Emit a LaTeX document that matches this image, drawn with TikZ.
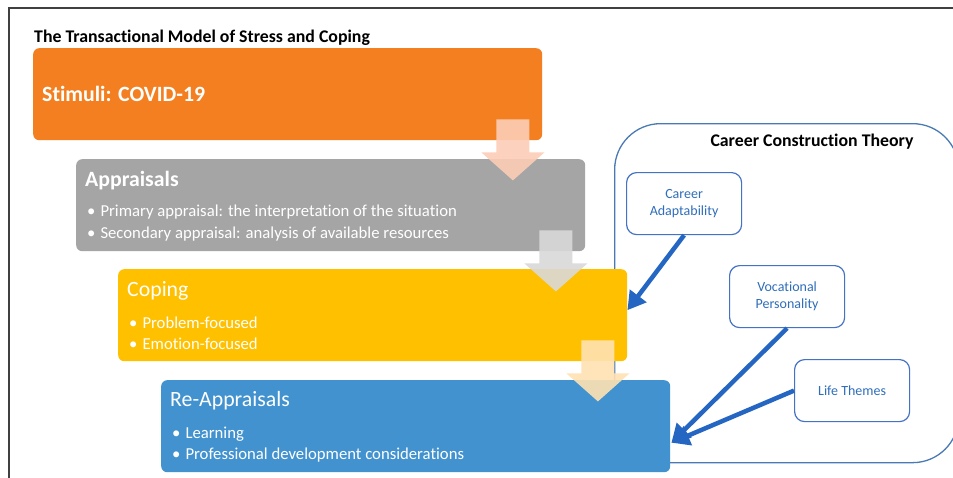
\documentclass[tikz,border=0pt]{standalone}
\usepackage{fontspec}
\setmainfont{Carlito}[Ligatures=NoCommon]
\usetikzlibrary{arrows.meta,calc}

\definecolor{framegray}{HTML}{404040}
\definecolor{stimorange}{HTML}{F47F20}
\definecolor{apprgray}{HTML}{A5A5A5}
\definecolor{copeyellow}{HTML}{FFC000}
\definecolor{reappblue}{HTML}{4292CF}
\definecolor{cctline}{HTML}{4A7AB5}
\definecolor{smallline}{HTML}{4472C4}
\definecolor{smalltext}{HTML}{2F6EBA}
\definecolor{linkblue}{HTML}{2566C2}
\definecolor{peach}{HTML}{FCCDB6}
\definecolor{lightgray}{HTML}{D9D9D9}
\definecolor{lightyellow}{HTML}{FFE2B3}

\tikzset{
  stagebox/.style={rectangle, rounded corners=6pt, inner sep=0pt, draw=none,
    minimum width=509pt, minimum height=92pt, anchor=north west},
  heading/.style={anchor=west, inner sep=0pt, text=white, font=\fontsize{21.8}{26}\selectfont},
  bulletline/.style={anchor=west, inner sep=0pt, text=white, font=\fontsize{16.7}{20}\selectfont},
  factorbox/.style={rectangle, rounded corners=10pt, draw=smallline, line width=1.2pt,
    fill=white, minimum width=115pt, minimum height=62pt, anchor=north west,
    align=center, text=smalltext, font=\fontsize{14}{17}\selectfont},
  linkarrow/.style={draw=linkblue, line width=4.5pt,
    -{Triangle[length=18pt,width=20pt]}},
  flowarrow/.pic={
    \fill (-16.5,0) -- (16.5,0) -- (16.5,33) -- (31.5,33) -- (0,61)
          -- (-31.5,33) -- (-16.5,33) -- cycle;
  },
}

\begin{document}
\begin{tikzpicture}[x=1pt,y=-1pt]
\useasboundingbox (0,0) rectangle (953,477);
\clip (0,0) rectangle (953,477);
\fill[white] (0,0) rectangle (953,477);

% outer frame, running off the page on the right and at the bottom
\draw[framegray, line width=2pt] (9,490) -- (9,8) -- (970,8);

% title of the left-hand model
\node[anchor=west, inner sep=0pt, font=\bfseries\fontsize{17.8}{21}\selectfont]
  (title) at (34,38) {The Transactional Model of Stress and Coping};

% Career Construction Theory frame (drawn first, the stages overlap it)
\node[rectangle, rounded corners=46pt, draw=cctline, line width=1.3pt,
  minimum width=344pt, minimum height=339pt, anchor=north west, inner sep=0pt]
  (cct) at (614,123) {};
\node[font=\bfseries\fontsize{17.8}{21}\selectfont, inner sep=0pt]
  (cctlabel) at (812,142) {Career Construction Theory};

% the four stages
\node[stagebox, fill=stimorange] (stim) at (33,48) {};
\node[stagebox, fill=apprgray]   (appr) at (76,159) {};
\node[stagebox, fill=copeyellow] (cope) at (118,269) {};
\node[stagebox, fill=reappblue]  (reap) at (161,380) {};

% stage texts
\node[heading, font=\bfseries\fontsize{21.8}{26}\selectfont]
  (stimtitle) at ($(stim.north west)+(9,46)$) {Stimuli: COVID-19};

\node[heading, font=\bfseries\fontsize{21.8}{26}\selectfont]
  (apprtitle) at ($(appr.north west)+(9,22)$) {Appraisals};
\node[bulletline] (appr1) at ($(appr.north west)+(11,53)$)
  {\textbullet\hspace{5pt}Primary appraisal: the interpretation of the situation};
\node[bulletline] (appr2) at ($(appr.north west)+(11,75)$)
  {\textbullet\hspace{5pt}Secondary appraisal: analysis of available resources};

\node[heading] (copetitle) at ($(cope.north west)+(9,22)$) {Coping};
\node[bulletline] (cope1) at ($(cope.north west)+(11,54)$)
  {\textbullet\hspace{5pt}Problem-focused};
\node[bulletline] (cope2) at ($(cope.north west)+(11,75)$)
  {\textbullet\hspace{5pt}Emotion-focused};

\node[heading] (reaptitle) at ($(reap.north west)+(9,21)$) {Re-Appraisals};
\node[bulletline] (reap1) at ($(reap.north west)+(11,54)$)
  {\textbullet\hspace{5pt}Learning};
\node[bulletline] (reap2) at ($(reap.north west)+(11,75)$)
  {\textbullet\hspace{5pt}Professional development considerations};

% translucent block arrows between the stages
\pic[fill=peach, fill opacity=0.9] at ($(stim.south east)+(-29.5,-21)$) {flowarrow};
\pic[fill=lightgray, fill opacity=0.9] at ($(appr.south east)+(-29.5,-21)$) {flowarrow};
\pic[fill=lightyellow, fill opacity=0.9] at ($(cope.south east)+(-29.5,-21)$) {flowarrow};

% Career Construction Theory factors
\node[factorbox] (adapt) at (626,172) {Career\\Adaptability};
\node[factorbox] (voc)   at (729,265) {Vocational\\Personality};
\node[factorbox] (life)  at (794,359) {Life Themes};

% links from the factors into the stages
\draw[linkarrow] (adapt.south) -- ($(cope.east)+(0,-5)$);
\draw[linkarrow] (voc.south) -- ($(reap.east)+(1,16.5)$);
\draw[linkarrow] (life.west) -- ($(reap.east)+(1,16.5)$);
\end{tikzpicture}
\end{document}
